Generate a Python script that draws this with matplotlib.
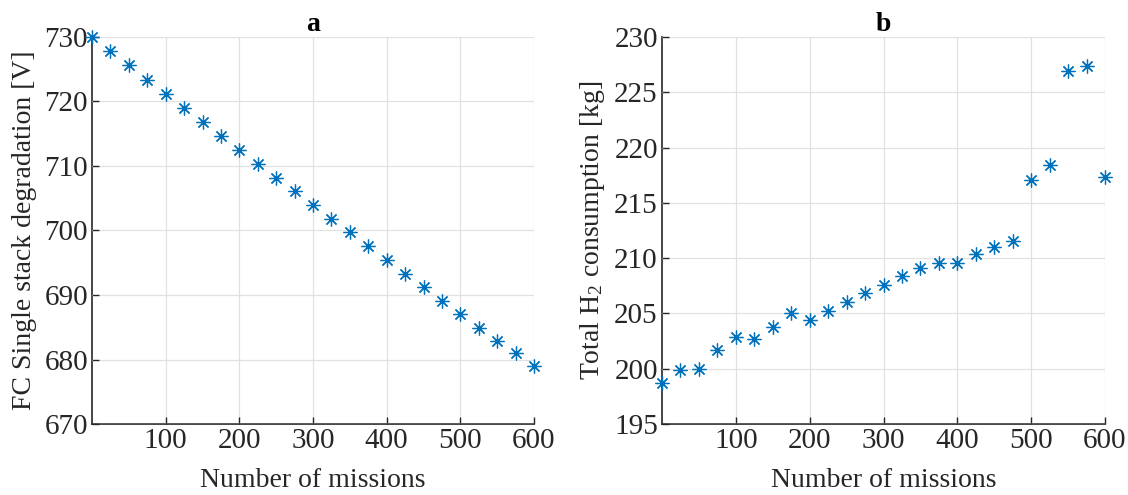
import matplotlib
matplotlib.use("Agg")
import matplotlib.pyplot as plt
import numpy as np

plt.rcParams["font.family"] = ["Liberation Serif", "DejaVu Serif"]
plt.rcParams["mathtext.fontset"] = "custom"
plt.rcParams["mathtext.rm"] = "Liberation Serif"
plt.rcParams["mathtext.it"] = "Liberation Serif:italic"

missions = [0, 25, 50, 75, 100, 125, 150, 175, 200, 225, 250, 275, 300,
            325, 350, 375, 400, 425, 450, 475, 500, 525, 550, 575, 600]

stack_voltage = [730.0, 727.8, 725.6, 723.4, 721.2, 719.0, 716.8, 714.7, 712.5,
                 710.3, 708.2, 706.1, 704.0, 701.8, 699.7, 697.6, 695.4, 693.3,
                 691.2, 689.1, 687.0, 684.9, 682.9, 681.0, 679.0]

h2_consumption = [198.7, 199.9, 200.0, 201.7, 202.9, 202.7, 203.8, 205.0, 204.4,
                  205.2, 206.0, 206.85, 207.6, 208.4, 209.1, 209.6, 209.6, 210.4,
                  211.0, 211.55, 217.1, 218.4, 226.9, 227.4, 217.35]

x_ticks = [100, 200, 300, 400, 500, 600]
v_ticks = [670, 680, 690, 700, 710, 720, 730]
h_ticks = [195, 200, 205, 210, 215, 220, 225, 230]

blue = "#0072BD"
axis_col = "#262626"
fs_tick = 21
fs_label = 20

fig = plt.figure(figsize=(11.28, 4.95), dpi=100)
ax1 = fig.add_axes([0.0816, 0.1434, 0.3918, 0.782])
ax2 = fig.add_axes([0.5869, 0.1434, 0.3927, 0.782])

def style(ax, yticks, ylim, ylabel, title):
    ax.set_xlim(0, 600)
    ax.set_ylim(*ylim)
    ax.set_xticks(x_ticks)
    ax.set_yticks(yticks)
    ax.grid(True, color="#e1e1e1", linewidth=0.9)
    ax.set_axisbelow(True)
    for s in ("top", "right"):
        ax.spines[s].set_visible(False)
    for s in ("left", "bottom"):
        ax.spines[s].set_color(axis_col)
        ax.spines[s].set_linewidth(1.2)
        ax.spines[s].set_zorder(0.5)
    ax.tick_params(direction="in", length=5, width=1.0, colors=axis_col,
                   labelsize=fs_tick, labelcolor=axis_col, pad=3)
    ax.set_xlabel("Number of missions", fontsize=fs_label, color=axis_col,
                  labelpad=10)
    ax.set_ylabel(ylabel, fontsize=fs_label, color=axis_col, labelpad=5)
    ax.set_title(title, fontsize=fs_label, fontweight="bold", pad=3)

ax1.plot(missions, stack_voltage, linestyle="none", marker=(8, 2, 0),
         markersize=10, markeredgewidth=0.9, color=blue, clip_on=False, zorder=3)
style(ax1, v_ticks, (670, 730), "FC Single stack degradation [V]", "a")

ax2.plot(missions, h2_consumption, linestyle="none", marker=(8, 2, 0),
         markersize=10, markeredgewidth=0.9, color=blue, clip_on=False, zorder=3)
style(ax2, h_ticks, (195, 230), "Total H$_2$ consumption [kg]", "b")

fig.savefig("out.png", dpi=100, facecolor="white")
